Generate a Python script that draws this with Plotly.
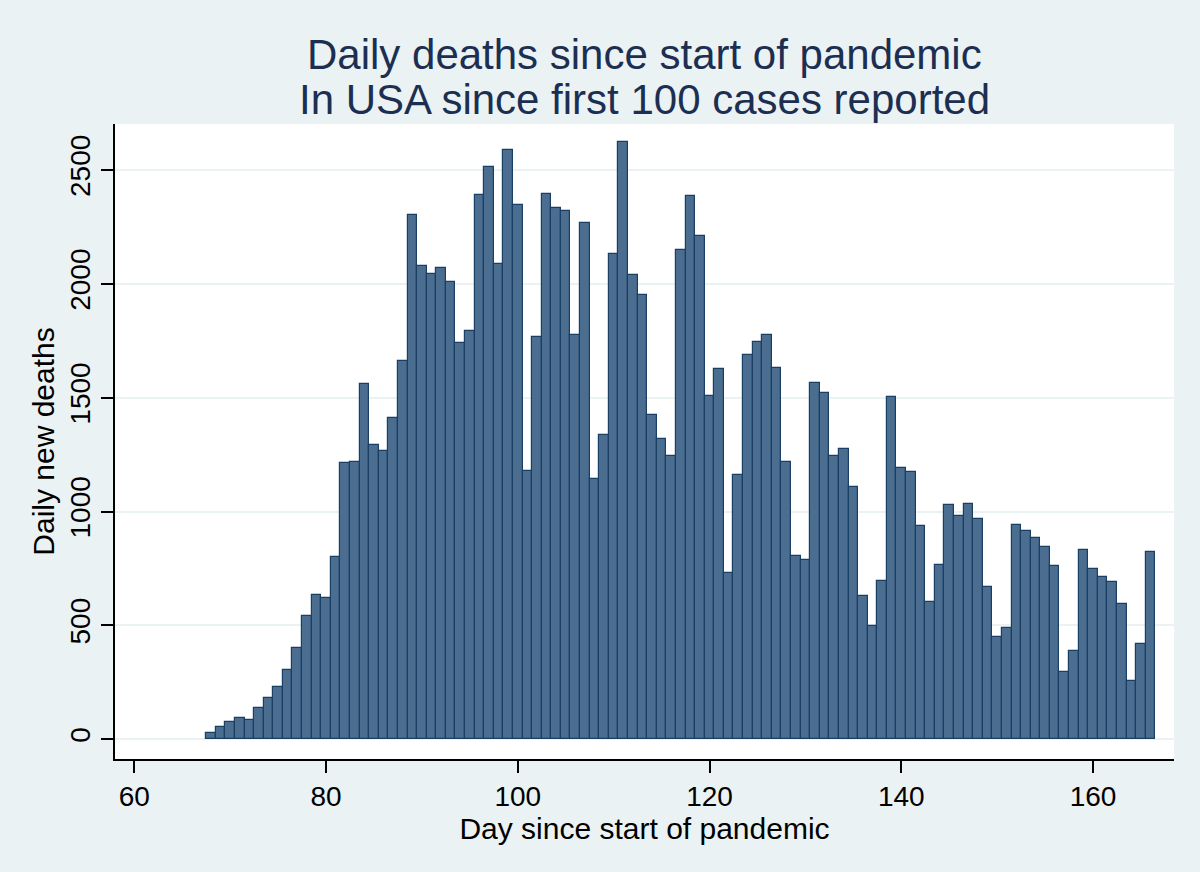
import plotly.graph_objects as go

days = [68, 69, 70, 71, 72, 73, 74, 75, 76, 77, 78, 79, 80, 81, 82, 83, 84, 85, 86, 87,
        88, 89, 90, 91, 92, 93, 94, 95, 96, 97, 98, 99, 100, 101, 102, 103, 104, 105, 106, 107,
        108, 109, 110, 111, 112, 113, 114, 115, 116, 117, 118, 119, 120, 121, 122, 123, 124, 125, 126, 127,
        128, 129, 130, 131, 132, 133, 134, 135, 136, 137, 138, 139, 140, 141, 142, 143, 144, 145, 146, 147,
        148, 149, 150, 151, 152, 153, 154, 155, 156, 157, 158, 159, 160, 161, 162, 163, 164, 165, 166]

daily_deaths = [27, 52, 74, 91, 84, 137, 179, 230, 304, 402, 543, 632, 620, 802, 1215, 1216, 1560, 1292, 1264, 1409,
                1660, 2302, 2079, 2044, 2068, 2010, 1740, 1795, 2391, 2515, 2086, 2589, 2347, 1180, 1768, 2395, 2335, 2321, 1775, 2269,
                1144, 1337, 2130, 2622, 2038, 1950, 1423, 1319, 1242, 2149, 2386, 2209, 1507, 1625, 732, 1160, 1689, 1744, 1775, 1630,
                1218, 804, 787, 1565, 1520, 1242, 1273, 1106, 629, 498, 696, 1503, 1189, 1173, 938, 601, 766, 1027, 979, 1031,
                967, 670, 447, 490, 941, 916, 885, 842, 761, 294, 387, 833, 749, 713, 689, 593, 256, 417, 823]

x_ticks = [60, 80, 100, 120, 140, 160]
y_ticks = [0, 500, 1000, 1500, 2000, 2500]

title_lines = ["Daily deaths since start of pandemic", "In USA since first 100 cases reported"]
x_title = "Day since start of pandemic"
y_title = "Daily new deaths"

FONT = "Liberation Sans, Arial, sans-serif"
BG = "#eaf2f3"

fig = go.Figure()
fig.add_trace(go.Bar(
    x=days, y=daily_deaths, width=1.0,
    marker=dict(color="#4a6d90", line=dict(color="#1a3f64", width=1.2)),
    hoverinfo="x+y",
))

fig.update_layout(
    width=1200, height=872,
    margin=dict(l=115, r=26, t=124, b=113),
    paper_bgcolor=BG, plot_bgcolor="white",
    showlegend=False, bargap=0,
    font=dict(family=FONT, color="black", size=28),
    annotations=[
        dict(text=title_lines[0], xref="paper", yref="paper", x=0.5, y=(759 - 80) / 635,
             xanchor="center", yanchor="bottom", showarrow=False,
             font=dict(family=FONT, size=42, color="#1c2f52")),
        dict(text=title_lines[1], xref="paper", yref="paper", x=0.5, y=(759 - 125) / 635,
             xanchor="center", yanchor="bottom", showarrow=False,
             font=dict(family=FONT, size=42, color="#1c2f52")),
    ],
)

fig.update_xaxes(
    range=[57.99, 168.45], tickvals=x_ticks, ticktext=[str(v) for v in x_ticks],
    showgrid=False, zeroline=False,
    showline=True, linecolor="black", linewidth=1.5,
    ticks="outside", ticklen=12, tickwidth=1.5, tickcolor="black",
    tickfont=dict(family=FONT, size=28, color="black"),
    title=dict(text=x_title, font=dict(family=FONT, size=30, color="black"), standoff=2),
)
fig.update_yaxes(
    range=[-87, 2702], tickvals=y_ticks, ticktext=[str(v) for v in y_ticks],
    showgrid=True, gridcolor=BG, gridwidth=1.5, zeroline=False,
    showline=True, linecolor="black", linewidth=1.5,
    ticks="outside", ticklen=12, tickwidth=1.5, tickcolor="black",
    tickangle=-90,
    tickfont=dict(family=FONT, size=28, color="black"),
    title=dict(text=y_title, font=dict(family=FONT, size=30, color="black"), standoff=2),
)

fig.write_html(
    "out.html",
    config={"displayModeBar": False},
    post_script="document.body.style.margin='0';document.body.style.background='#eaf2f3';",
)
